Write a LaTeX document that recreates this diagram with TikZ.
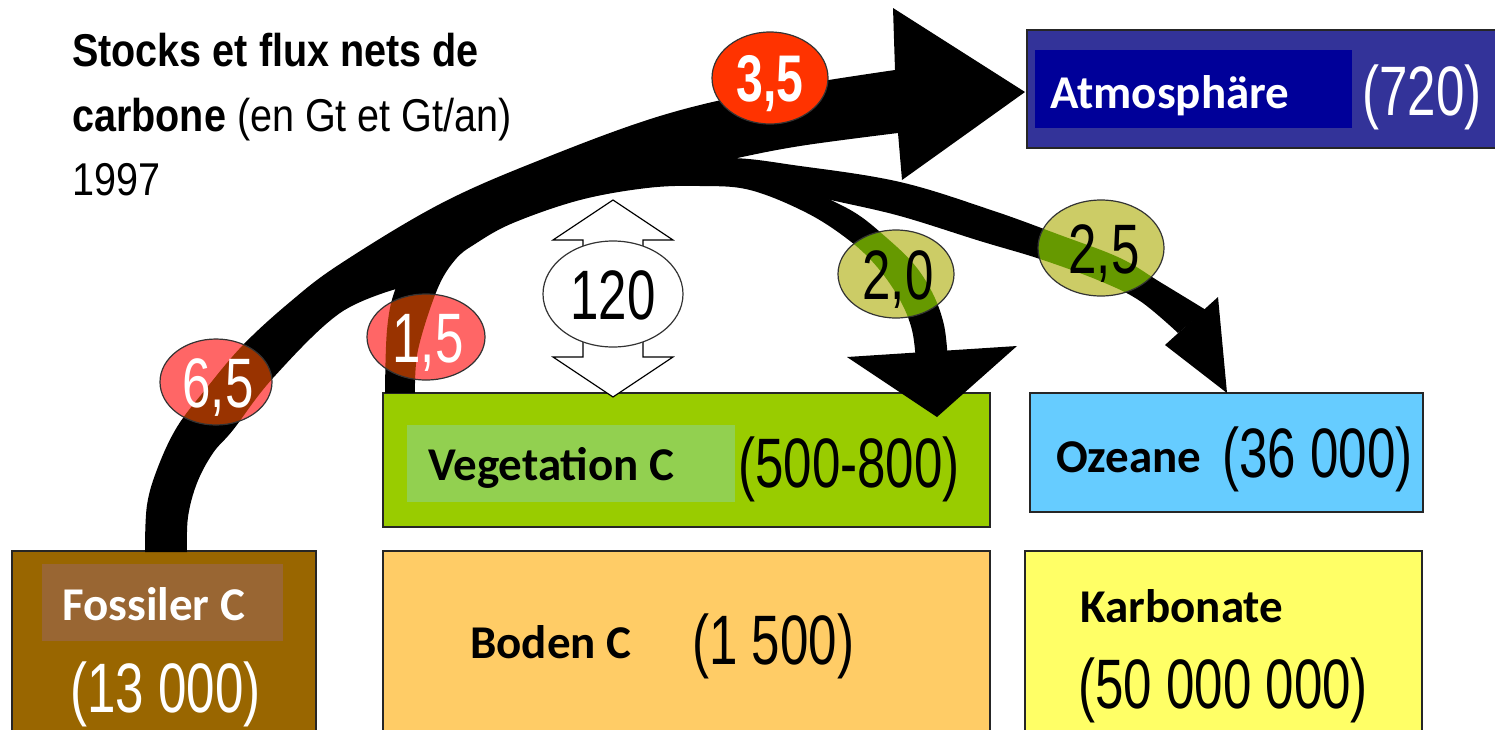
\documentclass[tikz,border=0pt]{standalone}
\usepackage{fontspec}
\setmainfont{Liberation Sans}
\newfontfamily\narrowfont[FakeStretch=0.73]{Liberation Sans}
\newfontfamily\titlefont[FakeStretch=0.86]{Liberation Sans}
\newfontfamily\boxfont{Carlito}

\definecolor{atmout}{HTML}{333399}
\definecolor{atmin}{HTML}{000099}
\definecolor{veg}{HTML}{99CC00}
\definecolor{vegin}{HTML}{92D050}
\definecolor{ocean}{HTML}{66CCFF}
\definecolor{fossil}{HTML}{996600}
\definecolor{fossilin}{HTML}{996633}
\definecolor{soil}{HTML}{FFCC66}
\definecolor{carb}{HTML}{FFFF66}
\definecolor{redlight}{HTML}{FF6666}
\definecolor{reddark}{HTML}{993300}
\definecolor{redfull}{HTML}{FF3300}
\definecolor{olivelight}{HTML}{CCCC66}
\definecolor{olivedark}{HTML}{669900}

% outlines of the carbon flux bands
% fossil emissions up to the atmosphere (with its head)
\newcommand\mainband{plot[smooth,tension=0.6] coordinates {(145,552) (147,505) (158,467) (177,427) (205,390) (243,345) (290,302) (340,264) (440,204) (540,160) (660,116) (770,90) (895,70)}
  -- (893,8) -- (1025,92) -- (902,180) -- (898,133)
  -- plot[smooth,tension=0.6] coordinates {(898,133) (800,146) (728,160) (640,180) (540,205) (480,232) (430,262) (403,287)}
  -- plot[smooth,tension=0.6] coordinates {(403,287) (340,313) (273,378) (233,430) (213,453) (197,483) (188,517) (187,552)} -- cycle}
% vegetation release and uptake arc
\newcommand\innerband{plot[smooth,tension=0.6] coordinates {(415,393) (418,350) (437,290) (455,260) (475,244) (513,223) (580,200) (647,188) (700,186) (750,190) (807,213) (850,241) (878,268) (900,300) (912,330) (916,362)}
  -- plot[smooth,tension=0.6] coordinates {(948,362) (944,325) (932,292) (912,262) (880,232) (857,214) (831,200) (790,180) (740,162) (680,150) (600,157) (520,180) (460,210) (415,250) (395,290) (387,330) (385,393)} -- cycle}
% ocean uptake band
\newcommand\seaband{plot[smooth,tension=0.6] coordinates {(640,168) (724,158) (800,166) (900,182) (991,210) (1060,235) (1120,258) (1160,282) (1206,310)}
  -- plot[smooth,tension=0.6] coordinates {(1178,333) (1140,301) (1100,281) (1040,259) (980,241) (900,216) (831,200) (780,188) (720,182) (640,180)} -- cycle}

% a flux label: centre x, centre y, x radius, y radius, light fill, dark fill
\newcommand\fluxoval[6]{%
  \fill[#5] (#1,#2) ellipse [x radius=#3, y radius=#4];
  \begin{scope}
    \clip (#1,#2) ellipse [x radius=#3, y radius=#4];
    \fill[#6] \mainband;
    \fill[#6] \innerband;
    \fill[#6] \seaband;
  \end{scope}
  \draw[ovalline] (#1,#2) ellipse [x radius=#3, y radius=#4];
}

\begin{document}
\begin{tikzpicture}[x=1pt, y=-1pt,
  store/.style={draw=black!85, line width=1.6pt, inner sep=0pt, outer sep=0pt, anchor=north west},
  boxlabel/.style={font=\boxfont\bfseries\fontsize{47}{50}\selectfont, anchor=base west, inner sep=0pt},
  amount/.style={font=\narrowfont\fontsize{70}{72}\selectfont, anchor=base west, inner sep=0pt},
  fluxnum/.style={font=\narrowfont\fontsize{70}{72}\selectfont, anchor=base, inner sep=0pt},
  titletext/.style={font=\titlefont\fontsize{46}{50}\selectfont, anchor=base west, inner sep=0pt},
  ovalline/.style={draw=black!80, line width=1.2pt}]
\useasboundingbox (0,0) rectangle (1495,729);

% carbon stores
\node[store, fill=atmout, minimum width=480pt, minimum height=118pt] (atm) at (1027,30) {};
\fill[atmin] (1035,50) rectangle (1352,128);
\node[boxlabel, text=white] (atmname) at (1050,108) {Atmosphäre};
\node[amount, text=white] (atmval) at (1362,115) {(720)};

\node[store, fill=veg, minimum width=607pt, minimum height=134pt] (veg) at (383,393) {};
\fill[vegin] (407,425) rectangle (735,502);
\node[boxlabel] (vegname) at (428,480) {Vegetation C};
\node[amount] (vegval) at (738,487) {(500-800)};

\node[store, fill=ocean, minimum width=393pt, minimum height=119pt] (ocean) at (1030,393) {};
\node[boxlabel] (oceanname) at (1056,472) {Ozeane};
\node[amount] (oceanval) at (1222,477) {(36 000)};

\node[store, fill=fossil, minimum width=304pt, minimum height=200pt] (fos) at (12,551) {};
\fill[fossilin] (42,564) rectangle (283,641);
\node[boxlabel, text=white] (fosname) at (62,620) {Fossiler C};
\node[amount, text=white] (fosval) at (70,712) {(13 000)};

\node[store, fill=soil, minimum width=607pt, minimum height=200pt] (soil) at (383,551) {};
\node[boxlabel] (soilname) at (470,658) {Boden C};
\node[amount] (soilval) at (692,664) {(1 500)};

\node[store, fill=carb, minimum width=397pt, minimum height=200pt] (carb) at (1025,551) {};
\node[boxlabel] (carbname) at (1080,622) {Karbonate};
\node[amount] (carbval) at (1078,708) {(50 000 000)};

% flux bands and their heads
\fill[black] \mainband;
\fill[black] \innerband;
\fill[black] (847,357) -- (1017,346) -- (937,417) -- cycle;
\fill[black] \seaband;
\fill[black] (1165,345) -- (1218,297) -- (1227,393) -- cycle;

% gross exchange between atmosphere and vegetation
\draw[line width=1.2pt, fill=white] (613,200) -- (673,240) -- (643,240) -- (643,357) -- (673,357)
  -- (613,397) -- (553,357) -- (583,357) -- (583,240) -- (553,240) -- cycle;
\draw[ovalline, fill=white] (613,294) ellipse [x radius=70, y radius=53];
\node[fluxnum] (f120) at (613,319) {120};

% flux labels
\fluxoval{216}{382}{56}{43}{redlight}{reddark}
\node[fluxnum, text=white] (f65) at (218,407) {6,5};
\fluxoval{426}{337}{59}{43}{redlight}{reddark}
\node[fluxnum, text=white] (f15) at (428,362) {1,5};
\fluxoval{896}{274}{58}{44}{olivelight}{olivedark}
\node[fluxnum] (f20) at (898,299) {2,0};
\fluxoval{1101}{248}{63}{48}{olivelight}{olivedark}
\node[fluxnum] (f25) at (1104,273) {2,5};
\draw[ovalline, fill=redfull] (770,78) ellipse [x radius=58, y radius=46];
\node[fluxnum, font=\narrowfont\bfseries\fontsize{66}{70}\selectfont, text=white] (f35) at (770,101) {3,5};

% heading
\node[titletext] (t1) at (72,66) {\bfseries Stocks et flux nets de};
\node[titletext] (t2) at (72,131) {\textbf{carbone} (en Gt et Gt/an)};
\node[titletext] (t3) at (72,195) {1997};
\end{tikzpicture}
\end{document}
